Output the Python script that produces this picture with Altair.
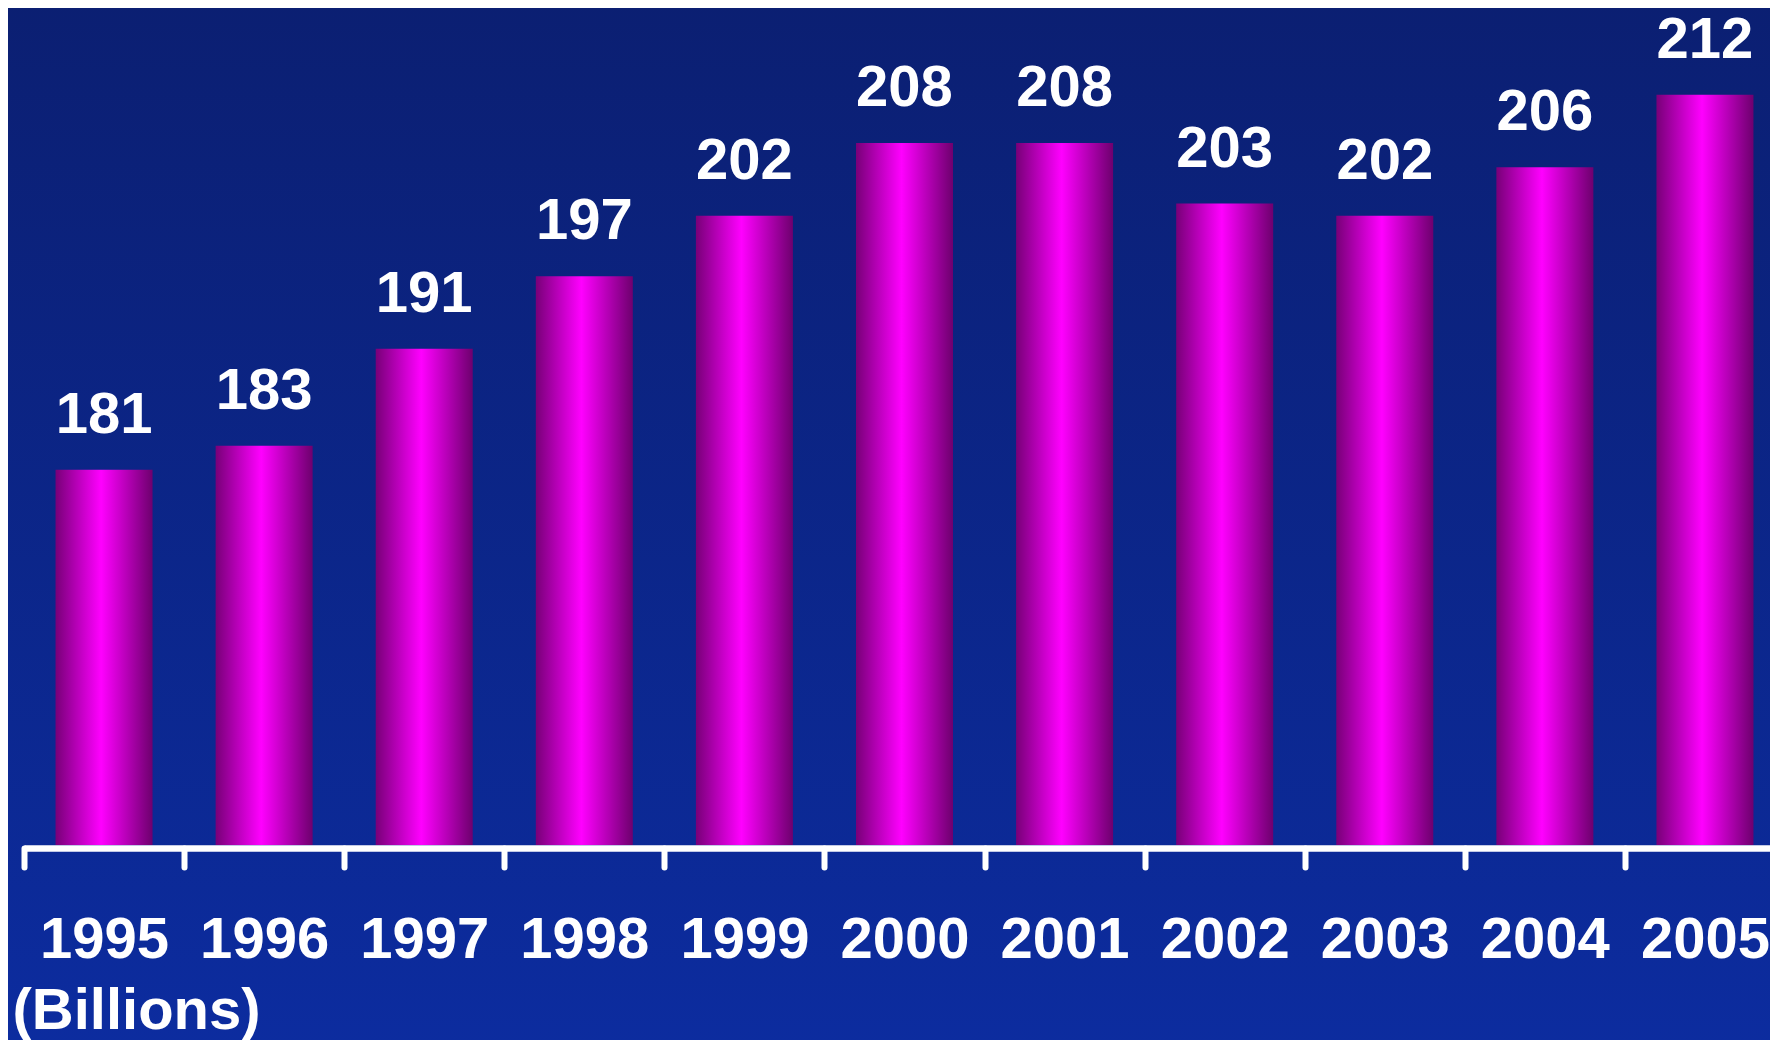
import altair as alt
import pandas as pd

years = ["1995", "1996", "1997", "1998", "1999", "2000", "2001", "2002", "2003", "2004", "2005"]
values = [181, 183, 191, 197, 202, 208, 208, 203, 202, 206, 212]
unit_label = "(Billions)"

df = pd.DataFrame({"year": years, "value": values})

FONT = "Liberation Sans"
BG_TOP = "#0b1f72"
BG_BOTTOM = "#0c2c9f"

bg_grad = alt.Gradient(
    gradient="linear",
    stops=[alt.GradientStop(color=BG_TOP, offset=0), alt.GradientStop(color=BG_BOTTOM, offset=1)],
    x1=0, x2=0, y1=0, y2=1,
)
bar_grad = alt.Gradient(
    gradient="linear",
    stops=[
        alt.GradientStop(color="#780078", offset=0),
        alt.GradientStop(color="#ff00ff", offset=0.47),
        alt.GradientStop(color="#6e006e", offset=1),
    ],
    x1=0, x2=1, y1=0, y2=0,
)

x_enc = alt.X(
    "year:N",
    sort=None,
    scale=alt.Scale(range=[0, 1761], paddingInner=0, paddingOuter=0),
    axis=alt.Axis(
        title=unit_label,
        titleFont=FONT, titleFontWeight="bold", titleFontSize=58, titleColor="white",
        titleAlign="left", titleBaseline="alphabetic", titleX=-12, titleY=180,
        labelAngle=0, labelFont=FONT, labelFontWeight="bold", labelFontSize=58,
        labelColor="white", labelBaseline="alphabetic", labelPadding=90,
        labelOverlap=False, labelFlush=False, labelBound=False,
        tickColor="white", tickWidth=6, tickSize=19, tickCap="round", tickBand="extent",
        domainColor="white", domainWidth=6.5, offset=3, grid=False, zindex=2,
    ),
)
y_enc = alt.Y("value:Q", scale=alt.Scale(domain=[150, 219], zero=False, nice=False), axis=None)

background = alt.Chart(alt.Data(values=[{}])).mark_rect(color=bg_grad).encode(
    x=alt.value(-20), x2=alt.value(1770), y=alt.value(-10), y2=alt.value(1040)
)

bars = alt.Chart(df).mark_bar(color=bar_grad, width=97, clip=True).encode(x=x_enc, y=y_enc)

labels = alt.Chart(df).mark_text(
    dy=-37, baseline="alphabetic", align="center", font=FONT, fontWeight="bold",
    fontSize=58, color="white",
).encode(x=alt.X("year:N", sort=None), y=y_enc, text=alt.Text("value:Q"))

chart = alt.layer(background, bars, labels).properties(
    width=1746,
    height=835,
    padding={"left": 16, "top": 2, "right": 0, "bottom": 195},
    autosize=alt.AutoSizeParams(type="none"),
    background=BG_BOTTOM,
).configure_view(stroke=None)

chart.save("out.html", embed_options={"renderer": "svg", "actions": False})
